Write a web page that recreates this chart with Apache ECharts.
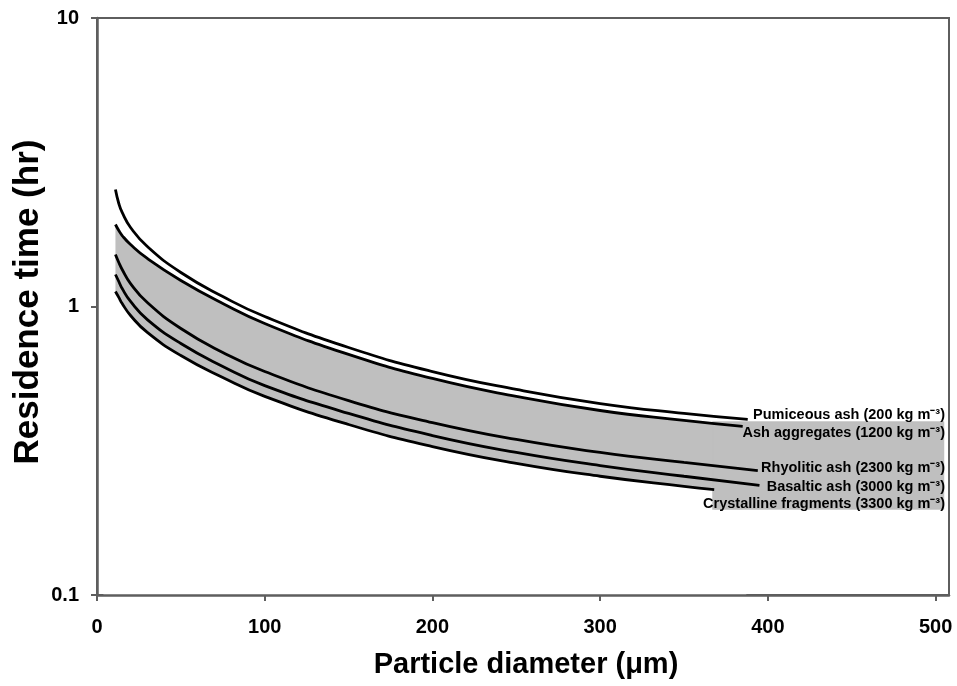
<!DOCTYPE html>
<html><head><meta charset="utf-8">
<script src="https://cdn.jsdelivr.net/npm/echarts@6/dist/echarts.min.js"></script>
<style>html,body{margin:0;padding:0;background:#fff}#c{width:957px;height:686px}</style>
</head><body><div id="c"></div>
<script>
// Particle diameter (µm) sample positions shared by all curves
const diameters = [11, 13, 15, 20, 30, 50, 75, 100, 150, 200, 250, 300, 350];
// Residence time (hr)
const pumiceous   = [2.544, 2.275, 2.118, 1.879, 1.614, 1.312, 1.083, 0.923, 0.721, 0.595, 0.516, 0.461, 0.426];
const aggregates  = [1.924, 1.834, 1.762, 1.640, 1.467, 1.231, 1.024, 0.873, 0.682, 0.563, 0.488, 0.436, 0.403];
const rhyolitic   = [1.514, 1.421, 1.344, 1.201, 1.032, 0.839, 0.693, 0.595, 0.472, 0.396, 0.346, 0.312, 0.288];
const basaltic    = [1.291, 1.221, 1.154, 1.041, 0.901, 0.744, 0.620, 0.532, 0.426, 0.357, 0.312, 0.281, 0.258];
const crystalline = [1.127, 1.075, 1.024, 0.931, 0.813, 0.676, 0.567, 0.488, 0.390, 0.327, 0.286, 0.258, 0.238];
// last point of each curve
const curveEndDiam = [388, 385, 394, 395, 368];
const curveEndTime = [0.406, 0.384, 0.270, 0.240, 0.232];
const curveNames = [
  'Pumiceous ash (200 kg m⁻³)',
  'Ash aggregates (1200 kg m⁻³)',
  'Rhyolitic ash (2300 kg m⁻³)',
  'Basaltic ash (3000 kg m⁻³)',
  'Crystalline fragments (3300 kg m⁻³)'
];
// shaded band extension behind the labels and clean-up patches: [d0, d1, t0, t1, gray?]
const bandPatches = [
  [367, 387, 0.1, 0.198, 0],
  [4, 11.8, 0.1, 1.09, 0],
  [367, 505, 0.198, 0.399, 1]
];
const xTicks = [0, 100, 200, 300, 400, 500];

const curves = [pumiceous, aggregates, rhyolitic, basaltic, crystalline];
const curveData = curves.map((arr, k) => {
  const d = arr.map((v, i) => [diameters[i], v]);
  d.push([curveEndDiam[k], curveEndTime[k]]);
  return d;
});

const chart = echarts.init(document.getElementById('c'), null, {renderer: 'canvas'});
const labelFont = '"Liberation Sans", Arial, sans-serif';
const bandGray = '#bfbfbf';
const axisGray = '#5e5e5e';

const series = [];
// gray fill under the Ash aggregates curve
series.push({
  type: 'line', data: curveData[1], smooth: true, showSymbol: false, silent: true,
  lineStyle: {width: 0, opacity: 0}, areaStyle: {color: bandGray, opacity: 1, origin: 'start'},
  z: 1
});
// white fill under the Crystalline curve (closes the band)
series.push({
  type: 'line', data: curveData[4], smooth: true, showSymbol: false, silent: true,
  lineStyle: {width: 0, opacity: 0}, areaStyle: {color: '#ffffff', opacity: 1, origin: 'start'},
  z: 2
});
series.push({
  type: 'custom', silent: true, z: 3,
  data: bandPatches,
  renderItem: function (params, api) {
    const p0 = api.coord([api.value(0), api.value(3)]);
    const p1 = api.coord([api.value(1), api.value(2)]);
    const fill = api.value(4) ? bandGray : '#ffffff';
    return {
      type: 'rect',
      shape: {x: p0[0], y: p0[1], width: p1[0] - p0[0], height: p1[1] - p0[1]},
      style: {fill: fill, stroke: fill, lineWidth: 0.5}
    };
  }
});
curveData.forEach((d, k) => {
  series.push({
    type: 'line', name: curveNames[k], data: d, smooth: true, showSymbol: false,
    lineStyle: {color: '#000', width: 2.8}, z: 4
  });
});

const labelY = [415, 433, 468, 487, 504];
const graphics = curveNames.map((t, k) => ({
  type: 'text', z: 100, x: 945, y: labelY[k],
  style: {text: t, align: 'right', verticalAlign: 'middle', textAlign: 'right', textVerticalAlign: 'middle',
          font: 'bold 14.5px ' + labelFont, fill: '#000'}
}));
graphics.push({
  type: 'text', z: 100, x: 526, y: 665,
  style: {text: 'Particle diameter (μm)', align: 'center', verticalAlign: 'middle', textAlign: 'center', textVerticalAlign: 'middle',
          font: 'bold 29px ' + labelFont, fill: '#000'}
});
graphics.push({
  type: 'text', z: 100, x: 28, y: 302, rotation: Math.PI / 2,
  style: {text: 'Residence time (hr)', align: 'center', verticalAlign: 'middle', textAlign: 'center', textVerticalAlign: 'middle',
          font: 'bold 35px ' + labelFont, fill: '#000'}
});

chart.setOption({
  animation: false,
  backgroundColor: '#fff',
  grid: {left: 97, right: 8, top: 18, bottom: 91, show: true, borderColor: axisGray, borderWidth: 2, backgroundColor: 'transparent'},
  xAxis: {
    type: 'value', min: 0, max: 508, interval: 100, z: 10,
    axisLine: {show: true, onZero: false, lineStyle: {color: axisGray, width: 2.5}},
    axisTick: {show: true, length: 6, customValues: xTicks, lineStyle: {color: axisGray, width: 2}},
    axisLabel: {customValues: xTicks, margin: 22, color: '#000', fontWeight: 'bold', fontSize: 20, fontFamily: labelFont,
      formatter: v => (v % 100 === 0 ? String(v) : '')},
    splitLine: {show: false}
  },
  yAxis: {
    type: 'log', logBase: 10, min: 0.1, max: 10, z: 10,
    axisLine: {show: true, lineStyle: {color: axisGray, width: 2.5}},
    axisTick: {show: true, length: 6, lineStyle: {color: axisGray, width: 2}},
    minorTick: {show: false},
    axisLabel: {margin: 18, color: '#000', fontWeight: 'bold', fontSize: 20, fontFamily: labelFont,
      formatter: v => String(+v.toPrecision(3))},
    splitLine: {show: false}
  },
  series: series,
  graphic: graphics
});
</script>
</body></html>
